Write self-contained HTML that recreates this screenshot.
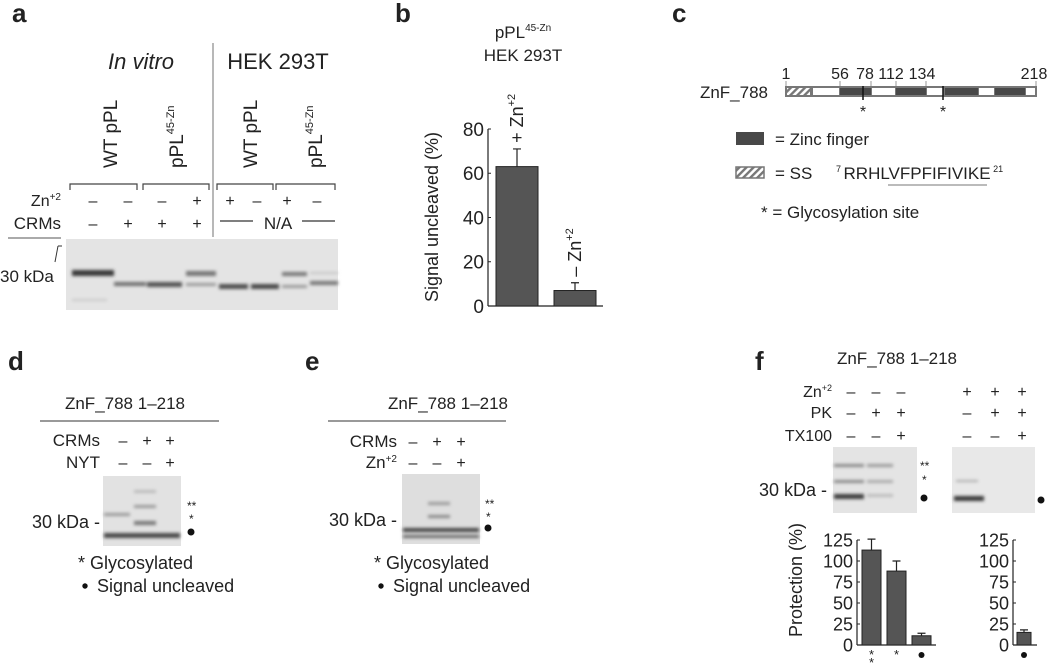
<!DOCTYPE html>
<html><head><meta charset="utf-8">
<style>
html,body{margin:0;padding:0;background:#fff;}
svg{display:block;font-family:"Liberation Sans",Arial,sans-serif;}
text{fill:#222;}
.lbl{font-weight:bold;font-size:26px;}
</style></head>
<body>
<svg id="fig" width="1050" height="666" viewBox="0 0 1050 666">
<defs>
<filter id="blur" x="-20%" y="-100%" width="140%" height="300%"><feGaussianBlur stdDeviation="1.7"/></filter>
<pattern id="hatch" width="5" height="5" patternUnits="userSpaceOnUse" patternTransform="rotate(45)">
<rect width="5" height="5" fill="#fff"/><rect width="2.4" height="5" fill="#777"/></pattern>
</defs>

<!-- Panel a -->
<g>
<text class="lbl" x="12" y="22">a</text>
<text x="141" y="69" font-size="22" font-style="italic" text-anchor="middle">In vitro</text>
<text x="278" y="69" font-size="22" text-anchor="middle">HEK 293T</text>
<line x1="213" y1="43" x2="213" y2="237" stroke="#888" stroke-width="1.2"/>
<text transform="translate(117,168) rotate(-90)" font-size="19">WT pPL</text>
<text transform="translate(183,168) rotate(-90)" font-size="19">pPL<tspan font-size="11" dy="-9">45-Zn</tspan></text>
<text transform="translate(257,168) rotate(-90)" font-size="19">WT pPL</text>
<text transform="translate(322,168) rotate(-90)" font-size="19">pPL<tspan font-size="11" dy="-9">45-Zn</tspan></text>
<g stroke="#444" stroke-width="1.2" fill="none">
<path d="M70,190 V184 H137 V190"/><path d="M143,190 V184 H209 V190"/><path d="M217,190 V184 H273 V190"/><path d="M276,190 V184 H335 V190"/>
</g>
<text x="61" y="206" font-size="16" text-anchor="end">Zn<tspan font-size="10" dy="-6">+2</tspan></text>
<text x="61" y="229" font-size="17" text-anchor="end">CRMs</text>
<g font-size="16" text-anchor="middle">
<text x="93" y="206">–</text><text x="128" y="206">–</text><text x="162" y="206">–</text><text x="197" y="206">+</text>
<text x="230" y="206">+</text><text x="257" y="206">–</text><text x="287" y="206">+</text><text x="317" y="206">–</text>
</g>
<g font-size="16" text-anchor="middle">
<text x="93" y="229">–</text><text x="128" y="229">+</text><text x="162" y="229">+</text><text x="197" y="229">+</text>
<text x="278" y="229" font-size="17">N/A</text>
</g>
<line x1="220" y1="221" x2="253" y2="221" stroke="#333" stroke-width="1.2"/>
<line x1="302" y1="221" x2="335" y2="221" stroke="#333" stroke-width="1.2"/>
<line x1="8" y1="238" x2="61" y2="238" stroke="#555" stroke-width="1"/>
<line x1="55" y1="262" x2="58" y2="246" stroke="#333" stroke-width="1"/><line x1="58" y1="246" x2="62" y2="246" stroke="#333" stroke-width="1"/>
<text x="0" y="282" font-size="17">30 kDa</text>
<g>
<rect x="66" y="239" width="272" height="71" fill="#e4e4e4"/>
<g filter="url(#blur)">
<rect x="72" y="270" width="42" height="6" fill="#3a3a3a"/>
<rect x="114" y="282" width="32" height="4" fill="#707070"/>
<rect x="147" y="282" width="35" height="5" fill="#555"/>
<rect x="186" y="271" width="30" height="5" fill="#777"/><rect x="186" y="283" width="30" height="3" fill="#999"/>
<rect x="219" y="284" width="29" height="5" fill="#505050"/>
<rect x="251" y="284" width="28" height="5" fill="#4a4a4a"/>
<rect x="282" y="272" width="25" height="4" fill="#777"/><rect x="282" y="285" width="25" height="3" fill="#999"/>
<rect x="310" y="281" width="28" height="4" fill="#777"/><rect x="310" y="272" width="28" height="2" fill="#c4c4c4"/>
<rect x="72" y="299" width="35" height="2" fill="#c8c8c8"/>
</g></g>
</g>

<!-- Panel b -->
<g>
<text class="lbl" x="395" y="22">b</text>
<text x="523" y="38" font-size="17" text-anchor="middle">pPL<tspan font-size="10" dy="-7">45-Zn</tspan></text>
<text x="523" y="61" font-size="17" text-anchor="middle">HEK 293T</text>
<text transform="translate(438,217) rotate(-90)" font-size="18" text-anchor="middle">Signal uncleaved (%)</text>
<g id="chartB"></g>
</g>

<!-- Panel c -->
<g>
<text class="lbl" x="672" y="22">c</text>
<g font-size="16" text-anchor="middle">
<text x="786" y="79">1</text><text x="840" y="79">56</text><text x="865" y="79">78</text><text x="891" y="79">112</text><text x="922" y="79">134</text><text x="1034" y="79">218</text>
</g>
<g stroke="#999" stroke-width="1"><line x1="786" y1="81" x2="786" y2="86"/><line x1="840" y1="81" x2="840" y2="86"/><line x1="871" y1="81" x2="871" y2="86"/><line x1="896" y1="81" x2="896" y2="86"/><line x1="926" y1="81" x2="926" y2="86"/><line x1="1036" y1="81" x2="1036" y2="86"/></g>
<text x="768" y="98" font-size="17" text-anchor="end">ZnF_788</text>
<g>
<rect x="785" y="86" width="252" height="11" fill="#777"/>
<rect x="787" y="88" width="23" height="7" fill="url(#hatch)"/>
<rect x="813" y="88" width="26" height="7" fill="#fff"/>
<rect x="840" y="88" width="31" height="7" fill="#484848"/>
<rect x="872" y="88" width="23" height="7" fill="#fff"/>
<rect x="896" y="88" width="30" height="7" fill="#484848"/>
<rect x="927" y="88" width="16" height="7" fill="#fff"/>
<rect x="945" y="88" width="33" height="7" fill="#484848"/>
<rect x="979" y="88" width="15" height="7" fill="#fff"/>
<rect x="995" y="88" width="30" height="7" fill="#484848"/>
<rect x="1026" y="88" width="9" height="7" fill="#fff"/>
<line x1="863" y1="86" x2="863" y2="100" stroke="#111" stroke-width="1.5"/>
<line x1="943" y1="86" x2="943" y2="100" stroke="#111" stroke-width="1.5"/>
<text x="863" y="117" font-size="16" text-anchor="middle">*</text>
<text x="943" y="117" font-size="16" text-anchor="middle">*</text>
</g>
<rect x="736" y="132" width="28" height="13" fill="#484848"/>
<text x="775" y="145" font-size="17">= Zinc finger</text>
<rect x="736" y="167" width="28" height="11" fill="url(#hatch)" stroke="#777" stroke-width="1.5"/>
<text x="775" y="179" font-size="17">= SS</text>
<text x="836" y="179" font-size="17"><tspan font-size="9" dy="-7">7 </tspan><tspan dy="7">RRHLVFPFIFIVIKE</tspan><tspan font-size="9" dy="-7"> 21</tspan></text>
<line x1="888" y1="185" x2="987" y2="185" stroke="#777" stroke-width="1"/>
<text x="761" y="218" font-size="17">* = Glycosylation site</text>
</g>

<!-- Panel d -->
<g>
<text class="lbl" x="8" y="370">d</text>
<text x="125" y="409" font-size="17" text-anchor="middle">ZnF_788 1–218</text>
<line x1="40" y1="421" x2="219" y2="421" stroke="#333" stroke-width="1"/>
<text x="100" y="446" font-size="17" text-anchor="end">CRMs</text>
<text x="100" y="468" font-size="17" text-anchor="end">NYT</text>
<g font-size="16" text-anchor="middle"><text x="123" y="446">–</text><text x="147" y="446">+</text><text x="170" y="446">+</text>
<text x="123" y="468">–</text><text x="147" y="468">–</text><text x="170" y="468">+</text></g>
<g>
<rect x="103" y="476" width="78" height="70" fill="#e2e2e2"/>
<g filter="url(#blur)">
<rect x="104" y="533" width="76" height="5" fill="#484848"/>
<rect x="104" y="513" width="26" height="3" fill="#999"/>
<rect x="134" y="521" width="22" height="4" fill="#777"/><rect x="134" y="505" width="22" height="3" fill="#999"/><rect x="134" y="490" width="22" height="3" fill="#bbb"/>
</g></g>
<text x="100" y="528" font-size="18" text-anchor="end">30 kDa -</text>
<text x="187" y="510" font-size="12" fill="#333">**</text><text x="189" y="523" font-size="12">*</text>
<circle cx="191" cy="532" r="3.5" fill="#111"/>
<text x="78" y="569" font-size="18">*  Glycosylated</text>
<circle cx="85" cy="586" r="2.7" fill="#111"/>
<text x="97" y="592" font-size="18">Signal uncleaved</text>
</g>

<!-- Panel e -->
<g>
<text class="lbl" x="305" y="370">e</text>
<text x="448" y="409" font-size="17" text-anchor="middle">ZnF_788 1–218</text>
<line x1="328" y1="421" x2="506" y2="421" stroke="#333" stroke-width="1"/>
<text x="397" y="447" font-size="17" text-anchor="end">CRMs</text>
<text x="397" y="468" font-size="17" text-anchor="end">Zn<tspan font-size="10" dy="-6">+2</tspan></text>
<g font-size="16" text-anchor="middle"><text x="413" y="447">–</text><text x="437" y="447">+</text><text x="461" y="447">+</text>
<text x="413" y="468">–</text><text x="437" y="468">–</text><text x="461" y="468">+</text></g>
<g>
<rect x="402" y="474" width="78" height="70" fill="#dedede"/>
<g filter="url(#blur)">
<rect x="403" y="528" width="76" height="4" fill="#444"/><rect x="403" y="535" width="76" height="3" fill="#666"/>
<rect x="428" y="515" width="22" height="3" fill="#888"/><rect x="428" y="502" width="22" height="3" fill="#999"/>
</g></g>
<text x="397" y="526" font-size="18" text-anchor="end">30 kDa -</text>
<text x="485" y="508" font-size="12">**</text><text x="486" y="521" font-size="12">*</text>
<circle cx="488" cy="528" r="3.5" fill="#111"/>
<text x="374" y="569" font-size="18">*  Glycosylated</text>
<circle cx="381" cy="586" r="2.7" fill="#111"/>
<text x="393" y="592" font-size="18">Signal uncleaved</text>
</g>

<!-- Panel f -->
<g>
<text class="lbl" x="755" y="370">f</text>
<text x="897" y="364" font-size="17" text-anchor="middle">ZnF_788 1–218</text>
<g font-size="16" text-anchor="end"><text x="832" y="397">Zn<tspan font-size="9" dy="-6">+2</tspan></text><text x="832" y="418">PK</text><text x="832" y="441">TX100</text></g>
<g font-size="16" text-anchor="middle">
<text x="851" y="397">–</text><text x="876" y="397">–</text><text x="901" y="397">–</text><text x="967" y="397">+</text><text x="995" y="397">+</text><text x="1022" y="397">+</text>
<text x="851" y="418">–</text><text x="876" y="418">+</text><text x="901" y="418">+</text><text x="967" y="418">–</text><text x="995" y="418">+</text><text x="1022" y="418">+</text>
<text x="851" y="441">–</text><text x="876" y="441">–</text><text x="901" y="441">+</text><text x="967" y="441">–</text><text x="995" y="441">–</text><text x="1022" y="441">+</text>
</g>
<g>
<rect x="833" y="447" width="84" height="66" fill="#e4e4e4"/>
<g filter="url(#blur)">
<rect x="834" y="494" width="30" height="5" fill="#3e3e3e"/><rect x="834" y="480" width="30" height="3" fill="#888"/><rect x="834" y="464" width="30" height="3" fill="#888"/>
<rect x="867" y="494" width="26" height="3" fill="#bbb"/><rect x="867" y="480" width="26" height="3" fill="#aaa"/><rect x="867" y="464" width="26" height="3" fill="#999"/>
</g></g>
<g>
<rect x="952" y="447" width="83" height="66" fill="#e8e8e8"/>
<g filter="url(#blur)"><rect x="954" y="496" width="30" height="5" fill="#3a3a3a"/><rect x="956" y="480" width="22" height="2" fill="#aaa"/></g>
</g>
<text x="827" y="496" font-size="18" text-anchor="end">30 kDa -</text>
<text x="920" y="470" font-size="12">**</text><text x="922" y="484" font-size="12">*</text>
<circle cx="924" cy="498" r="3.5" fill="#111"/><circle cx="1041" cy="500" r="3.5" fill="#111"/>
<text transform="translate(802,580) rotate(-90)" font-size="18" text-anchor="middle">Protection (%)</text>
<g id="chartF1"></g><g id="chartF2"></g>
</g>
</svg>
<script>
// Chart b data
const bCategories = ["+ Zn+2", "– Zn+2"];
const bValues = [63, 7];
const bErrors = [8, 3.5];
const bTicks = [0, 20, 40, 60, 80];
// Chart f data
const fCategories = ["**", "*", "●"];
const fValues = [113, 88, 11];
const fErrors = [13, 12, 3];
const f2Categories = ["●"];
const f2Values = [15];
const f2Errors = [3];
const fTicks = [0, 25, 50, 75, 100, 125];

const NS = "http://www.w3.org/2000/svg";
function mk(parent, tag, attrs){const e=document.createElementNS(NS,tag);for(const k in attrs)e.setAttribute(k,attrs[k]);parent.appendChild(e);return e;}

function drawChart(g, cfg){
  const y = v => cfg.y0 - (v - 0) / cfg.max * (cfg.y0 - cfg.yTop);
  const ax = mk(g,"line",{x1:cfg.ax,y1:y(cfg.max),x2:cfg.ax,y2:cfg.y0,stroke:"#222","stroke-width":1.2});
  
  
  const base = mk(g,"line",{x1:cfg.ax,y1:cfg.y0,x2:cfg.axEnd,y2:cfg.y0,stroke:"#222","stroke-width":1.2});
  
  
  cfg.ticks.forEach(t=>{
    mk(g,"line",{x1:cfg.ax,y1:y(t),x2:cfg.ax+3,y2:y(t),stroke:"#222","stroke-width":1});
    const tx = mk(g,"text",{x:cfg.ax-4,y:y(t)+cfg.fs*0.36,"font-size":cfg.fs,"text-anchor":"end"});
    tx.textContent = t;
    
    
  });
  cfg.values.forEach((v,i)=>{
    const x = cfg.x0 + i*cfg.step, w = cfg.bw;
    const r = mk(g,"rect",{x:x,y:y(v),width:w,height:cfg.y0-y(v),fill:"#555",stroke:"#222","stroke-width":1});
    
    
    const cx = x + w/2, ey = y(v + cfg.errors[i]);
    const eb = mk(g,"path",{d:`M${cx},${y(v)} V${ey} M${cx-4},${ey} H${cx+4}`,stroke:"#222","stroke-width":1.2,fill:"none"});
    
    
    if(cfg.labelFn) cfg.labelFn(g, cfg.cats[i], cx, ey, i);
  });
}

drawChart(document.getElementById("chartB"), {
  name:"chart-b", ax:488, axEnd:603, y0:306, yTop:129, max:80, ticks:bTicks, fs:19,
  values:bValues, errors:bErrors, cats:bCategories, x0:496, step:58, bw:42,
  labelFn:(g,c,cx,ey,i)=>{
    const t = mk(g,"text",{transform:`translate(${cx+6},${ey-6}) rotate(-90)`,"font-size":18});
    t.innerHTML = (i===0?"+ Zn":"– Zn") + '<tspan font-size="11" dy="-8">+2</tspan>';
    
    
  }
});
function fLabel(g,c,cx,ey,i){
  if(c==="●"){ const d=mk(g,"circle",{cx:cx,cy:655,r:3,fill:"#111"});   return; }
  const n=c.length;
  for(let k=0;k<n;k++){ const t=mk(g,"text",{x:cx,y:659+k*8,"font-size":13,"text-anchor":"middle"}); t.textContent="*";
      }
}
drawChart(document.getElementById("chartF1"), {
  name:"chart-f1", ax:857, axEnd:936, y0:645, yTop:540, max:125, ticks:fTicks, fs:18,
  values:fValues, errors:fErrors, cats:fCategories, x0:862, step:25, bw:19, labelFn:fLabel
});
drawChart(document.getElementById("chartF2"), {
  name:"chart-f2", ax:1013, axEnd:1037, y0:645, yTop:540, max:125, ticks:fTicks, fs:18,
  values:f2Values, errors:f2Errors, cats:f2Categories, x0:1017, step:20, bw:14, labelFn:fLabel
});
</script>
</body></html>
